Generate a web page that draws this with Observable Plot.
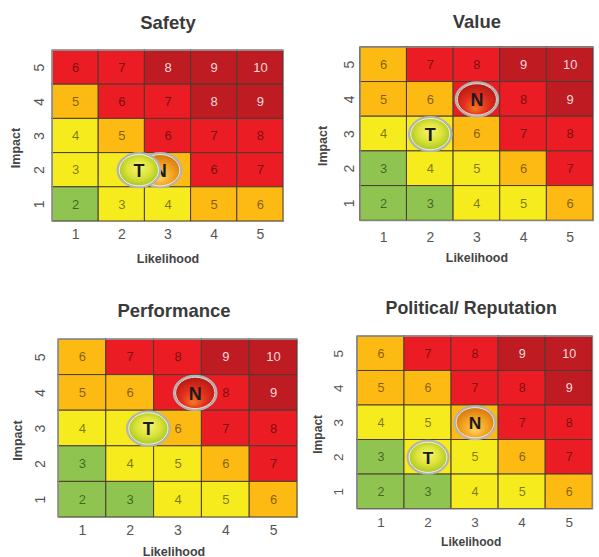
<!DOCTYPE html>
<html>
<head>
<meta charset="utf-8">
<script src="https://cdn.jsdelivr.net/npm/d3@7"></script>
<script src="https://cdn.jsdelivr.net/npm/@observablehq/plot@0.6"></script>
<style>
  html, body { margin: 0; padding: 0; background: #fff; }
  #page { position: relative; width: 599px; height: 557px; overflow: hidden; background: #fff; }
  .panel { position: absolute; }
  .panel svg { display: block; }
</style>
</head>
<body>
<svg width="0" height="0" style="position:absolute">
  <defs>
    <radialGradient id="ball-green" cx="50%" cy="50%" r="62%" fx="50%" fy="40%">
      <stop offset="0" stop-color="#f7f570"/>
      <stop offset="0.45" stop-color="#dde338"/>
      <stop offset="0.8" stop-color="#a8c72a"/>
      <stop offset="1" stop-color="#7d9f1f"/>
    </radialGradient>
    <radialGradient id="ball-amber" cx="50%" cy="55%" r="62%" fx="50%" fy="75%">
      <stop offset="0" stop-color="#fcd35c"/>
      <stop offset="0.5" stop-color="#f4a11f"/>
      <stop offset="1" stop-color="#c76a0c"/>
    </radialGradient>
    <radialGradient id="ball-red" cx="50%" cy="55%" r="62%" fx="45%" fy="80%">
      <stop offset="0" stop-color="#f27a22"/>
      <stop offset="0.45" stop-color="#e4301f"/>
      <stop offset="1" stop-color="#a3140f"/>
    </radialGradient>
  </defs>
</svg>
<div id="page"></div>
<script>
// Axes of every matrix
const likelihood = [1, 2, 3, 4, 5];
const impact = [1, 2, 3, 4, 5];

// Risk score printed in each cell; rows run from impact 5 down to impact 1
const scoreRows = [
  [6, 7, 8, 9, 10],
  [5, 6, 7, 8, 9],
  [4, 5, 6, 7, 8],
  [3, 4, 5, 6, 7],
  [2, 3, 4, 5, 6]
];

// Rating bands: L = low, M = moderate, E = elevated, H = high, X = extreme
const bandCodes = ["L", "M", "E", "H", "X"];
const bandNames = ["low", "moderate", "elevated", "high", "extreme"];
const bandColors = ["#8ec44f", "#f6eb1d", "#fdba13", "#ec1c24", "#be1b22"];

// Band of each cell per category, same row order as scoreRows
const safetyBands = ["HHXXX", "EHHXX", "MEHHH", "MMEHH", "LMMEE"];
const valueBands = ["EHHXX", "EEHHX", "MMEHH", "LMMEH", "LLMME"];
const performanceBands = ["EHHXX", "EEHHX", "MMEHH", "LMMEH", "LLMME"];
const politicalBands = ["EHHXX", "EEHHX", "MMEHH", "LMMEH", "LLMME"];

// Position markers: T and N, with their rating
const safetyMarkers = [
  {label: "N", likelihood: 2.83, impact: 2, rating: "amber"},
  {label: "T", likelihood: 2.37, impact: 2, rating: "green"}
];
const valueMarkers = [
  {label: "T", likelihood: 2, impact: 3, rating: "green"},
  {label: "N", likelihood: 3, impact: 4, rating: "red"}
];
const performanceMarkers = [
  {label: "T", likelihood: 2.38, impact: 3, rating: "green"},
  {label: "N", likelihood: 3.36, impact: 4, rating: "red"}
];
const politicalMarkers = [
  {label: "T", likelihood: 2, impact: 2, rating: "green"},
  {label: "N", likelihood: 3, impact: 3, rating: "amber"}
];

const titles = ["Safety", "Value", "Performance", "Political/ Reputation"];
const xLabel = "Likelihood";
const yLabel = "Impact";

// Oval marker drawn as a Plot symbol
const oval = {
  draw(context, size) {
    const ry = Math.sqrt(size / Math.PI), rx = ry * 1.25, k = 0.5523;
    context.moveTo(rx, 0);
    context.bezierCurveTo(rx, ry * k, rx * k, ry, 0, ry);
    context.bezierCurveTo(-rx * k, ry, -rx, ry * k, -rx, 0);
    context.bezierCurveTo(-rx, -ry * k, -rx * k, -ry, 0, -ry);
    context.bezierCurveTo(rx * k, -ry, rx, -ry * k, rx, 0);
    context.closePath();
  }
};

// A score is hidden when a marker sits right over its cell
function covered(cell, markers) {
  return markers.some(m => Math.abs(m.likelihood - cell.likelihood) < 0.45
    && Math.abs(m.impact - cell.impact) < 0.3);
}

function riskMatrix(cfg) {
  const cells = [];
  scoreRows.forEach((row, r) => row.forEach((score, c) => {
    cells.push({
      likelihood: likelihood[c],
      impact: impact[impact.length - 1 - r],
      score,
      band: bandNames[bandCodes.indexOf(cfg.bands[r][c])]
    });
  }));
  const visible = cells.filter(d => !covered(d, cfg.markers));
  const markerMarks = cfg.markers.flatMap(m => [
    Plot.dot([m], {x: "likelihood", y: "impact", r: 17, symbol: oval,
      fill: `url(#ball-${m.rating})`, stroke: "#b3b3b3", strokeWidth: 2.2}),
    Plot.dot([m], {x: "likelihood", y: "impact", r: 15.7, symbol: oval,
      fill: "none", stroke: "#ffffff", strokeOpacity: 0.8, strokeWidth: 1}),
    Plot.text([m], {x: "likelihood", y: "impact", text: "label", fontSize: 18,
      fontWeight: "bold", fill: "#1b1b1b", dy: 1})
  ]);
  return Plot.plot({
    width: cfg.width,
    height: cfg.height,
    marginTop: cfg.margin[0],
    marginRight: cfg.margin[1],
    marginBottom: cfg.margin[2],
    marginLeft: cfg.margin[3],
    style: {fontFamily: "'Liberation Sans', Arial, sans-serif", background: "transparent", overflow: "visible"},
    x: {domain: [0.5, 5.5]},
    y: {domain: [0.5, 5.5], axis: null},
    color: {domain: bandNames, range: bandColors},
    marks: [
      Plot.rect(cells, {
        x1: d => d.likelihood - 0.5, x2: d => d.likelihood + 0.5,
        y1: d => d.impact - 0.5, y2: d => d.impact + 0.5,
        fill: "band", stroke: "#4b3c31", strokeWidth: 1
      }),
      Plot.frame({stroke: "#8d8d8d", strokeWidth: 1}),
      Plot.text(visible, {filter: d => d.band !== "extreme", x: "likelihood", y: "impact",
        text: "score", fontSize: 13, fill: "#000", fillOpacity: 0.5}),
      Plot.text(visible, {filter: d => d.band === "extreme", x: "likelihood", y: "impact",
        text: "score", fontSize: 13, fill: "#fff", fillOpacity: 0.85}),
      ...markerMarks,
      Plot.axisX({ticks: likelihood, tickSize: 0, tickPadding: cfg.tickPadding,
        fontSize: 14, color: "#555", label: null, tickFormat: d => String(d)}),
      Plot.text(impact, {y: d => d, text: d => String(d), frameAnchor: "left",
        textAnchor: "middle", lineAnchor: "middle",
        dx: cfg.yTickDx, rotate: -90, fontSize: 14, fill: "#555"}),
      Plot.text([cfg.title], {frameAnchor: "top", lineAnchor: "middle", dy: cfg.titleDy, dx: cfg.titleDx,
        fontSize: 18.5, fontWeight: "bold", fill: "#3a3a3a"}),
      Plot.text([xLabel], {frameAnchor: "bottom", lineAnchor: "middle", dy: cfg.labelDy, dx: cfg.titleDx,
        fontSize: 12.5, fontWeight: "bold", fill: "#444"}),
      Plot.text([yLabel], {frameAnchor: "left", textAnchor: "middle", lineAnchor: "middle",
        dx: cfg.impactDx, dy: 12, rotate: -90,
        fontSize: 12.5, fontWeight: "bold", fill: "#444"})
    ]
  });
}

const panels = [
  {left: 0, top: 0, title: titles[0], bands: safetyBands, markers: safetyMarkers,
   width: 300, height: 280, margin: [50, 17, 59, 52], tickPadding: 8, yTickDx: -13,
   impactDx: -37, titleDy: -27, titleDx: 0, labelDy: 37},
  {left: 300, top: 0, title: titles[1], bands: valueBands, markers: valueMarkers,
   width: 300, height: 280, margin: [47, 6, 59, 60], tickPadding: 11, yTickDx: -11,
   impactDx: -37, titleDy: -25, titleDx: 0, labelDy: 37},
  {left: 0, top: 280, title: titles[2], bands: performanceBands, markers: performanceMarkers,
   width: 300, height: 277, margin: [59, 3, 40, 58], tickPadding: 8, yTickDx: -18,
   impactDx: -41, titleDy: -28, titleDx: -4, labelDy: 34},
  {left: 300, top: 280, title: titles[3], bands: politicalBands, markers: politicalMarkers,
   width: 310, height: 277, margin: [58, 7, 40, 59], tickPadding: 9, yTickDx: -19,
   impactDx: -41, titleDy: -29, titleDx: -4, labelDy: 34}
];

const page = document.getElementById("page");
for (const cfg of panels) {
  const holder = document.createElement("div");
  holder.className = "panel";
  holder.style.left = cfg.left + "px";
  holder.style.top = cfg.top + "px";
  holder.appendChild(riskMatrix(cfg));
  page.appendChild(holder);
}
</script>
</body>
</html>
